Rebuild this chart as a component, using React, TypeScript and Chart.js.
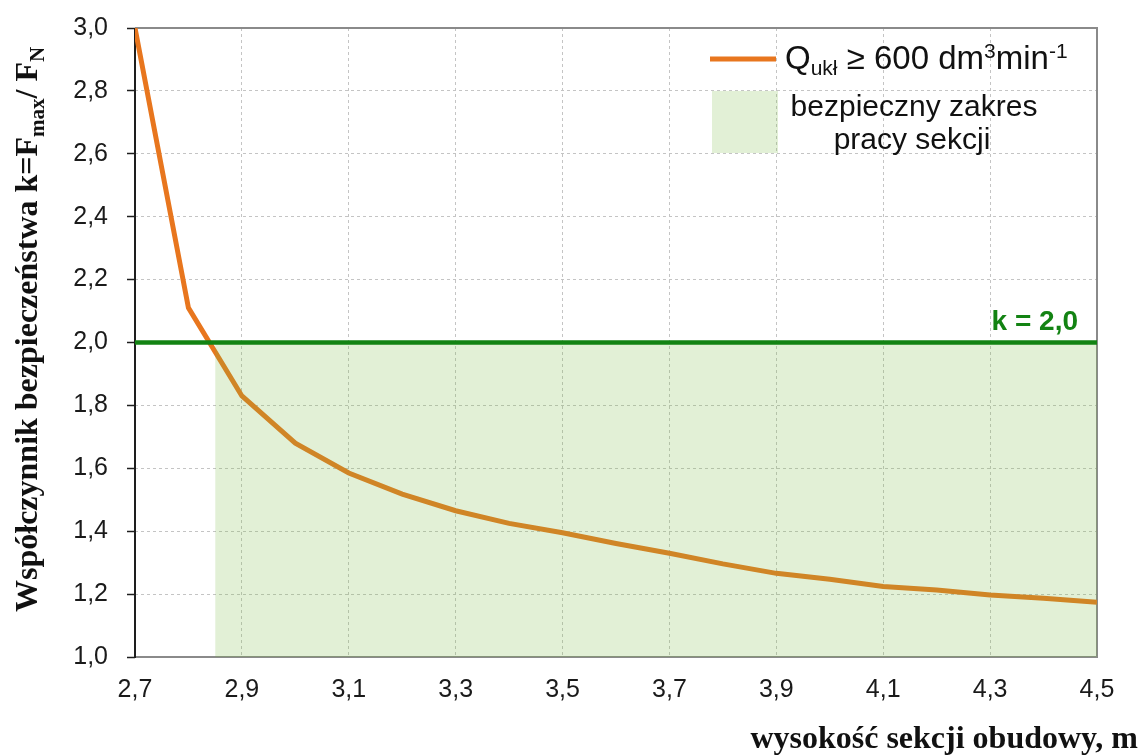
import { useEffect, useRef } from 'react';
import { Chart, registerables } from 'chart.js';

Chart.register(...registerables);

// ---- data ----
const heights = [2.7, 2.8, 2.9, 3.0, 3.1, 3.2, 3.3, 3.4, 3.5, 3.6, 3.7, 3.8, 3.9, 4.0, 4.1, 4.2, 4.3, 4.4, 4.5];
const safetyFactor = [3.0, 2.11, 1.83, 1.68, 1.585, 1.518, 1.465, 1.425, 1.395, 1.361, 1.33, 1.296, 1.266, 1.247, 1.224, 1.213, 1.197, 1.187, 1.174];
const kThreshold = 2.0;
const safeRangeStart = 2.85;
const xMin = 2.7;
const xMax = 4.5;
const yMin = 1.0;
const yMax = 3.0;
const xTicks = [2.7, 2.9, 3.1, 3.3, 3.5, 3.7, 3.9, 4.1, 4.3, 4.5];
const yTicks = [1.0, 1.2, 1.4, 1.6, 1.8, 2.0, 2.2, 2.4, 2.6, 2.8, 3.0];

const ORANGE = '#e8761e';
const DARK_GREEN = '#138313';
const ZONE_FILL = 'rgba(123,187,68,0.22)';
const GRID = '#c4c4c4';
const SANS = "'Liberation Sans', Arial, sans-serif";
const SERIF = "'Liberation Serif', 'Times New Roman', serif";

const fmt = (v: number) => Number(v).toFixed(1).replace('.', ',');

type Run = { t: string; size: number; dy: number };

function drawRuns(ctx: CanvasRenderingContext2D, runs: Run[], x: number, y: number, weight: string, family: string) {
  let cx = x;
  for (const r of runs) {
    ctx.font = `${weight} ${r.size}px ${family}`;
    ctx.fillText(r.t, cx, y + r.dy);
    cx += ctx.measureText(r.t).width;
  }
  return cx;
}

const framePlugin = {
  id: 'frame',
  beforeDatasetsDraw(chart: any) {
    const { ctx, chartArea: a } = chart;
    ctx.save();
    ctx.lineWidth = 2;
    ctx.strokeStyle = '#8a8a8a';
    ctx.beginPath();
    ctx.moveTo(a.left, a.top);
    ctx.lineTo(a.right, a.top);
    ctx.lineTo(a.right, a.bottom);
    ctx.lineTo(a.left, a.bottom);
    ctx.stroke();
    ctx.strokeStyle = '#1e1e1e';
    ctx.beginPath();
    ctx.moveTo(a.left, a.top);
    ctx.lineTo(a.left, a.bottom + 1);
    ctx.stroke();
    ctx.restore();
  },
};

const textPlugin = {
  id: 'texts',
  afterDraw(chart: any) {
    const { ctx } = chart;
    const xs = chart.scales.x;
    const ys = chart.scales.y;
    ctx.save();
    ctx.fillStyle = '#111';
    ctx.textAlign = 'left';
    ctx.textBaseline = 'alphabetic';

    // y axis title (rotated)
    ctx.save();
    ctx.translate(37, 612);
    ctx.rotate(-Math.PI / 2);
    drawRuns(ctx, [
      { t: 'Współczynnik bezpieczeństwa k=F', size: 32, dy: 0 },
      { t: 'max', size: 21, dy: 7 },
      { t: '/ F', size: 32, dy: 0 },
      { t: 'N', size: 21, dy: 7 },
    ], 0, 0, 'bold', SERIF);
    ctx.restore();

    // x axis title
    ctx.font = `bold 32px ${SERIF}`;
    ctx.textAlign = 'right';
    ctx.fillText('wysokość sekcji obudowy, m', 1138, 748);

    // k = 2,0 label
    ctx.fillStyle = DARK_GREEN;
    ctx.font = `bold 28px ${SANS}`;
    ctx.textAlign = 'right';
    ctx.fillText('k = 2,0', xs.getPixelForValue(xMax) - 19, ys.getPixelForValue(kThreshold) - 13);

    // legend
    const ds0 = chart.data.datasets[0];
    const ds1 = chart.data.datasets[1];
    ctx.strokeStyle = ds0.borderColor;
    ctx.lineWidth = 5;
    ctx.beginPath();
    ctx.moveTo(710, 59);
    ctx.lineTo(776, 59);
    ctx.stroke();
    ctx.fillStyle = '#111';
    ctx.textAlign = 'left';
    drawRuns(ctx, [
      { t: 'Q', size: 33, dy: 0 },
      { t: 'ukł', size: 21, dy: 6 },
      { t: ' ≥ 600 dm', size: 33, dy: 0 },
      { t: '3', size: 21, dy: -11 },
      { t: 'min', size: 33, dy: 0 },
      { t: '-1', size: 21, dy: -11 },
    ], 785, 69, 'normal', SANS);

    ctx.fillStyle = ds1.backgroundColor;
    ctx.fillRect(712, 91, 66, 62);
    ctx.fillStyle = '#111';
    ctx.textAlign = 'center';
    ctx.font = `normal 30px ${SANS}`;
    ctx.fillText('bezpieczny zakres', 914, 116);
    ctx.fillText('pracy sekcji', 912, 149);
    ctx.restore();
  },
};

export default function App() {
  const ref = useRef<HTMLCanvasElement>(null);
  useEffect(() => {
    const edge = (lo: number, hi: number) => (c: any) => {
      const v = c.tick ? c.tick.value : 0;
      return Math.abs(v - lo) < 1e-6 || Math.abs(v - hi) < 1e-6 ? 'rgba(0,0,0,0)' : GRID;
    };
    const chart = new Chart(ref.current as HTMLCanvasElement, {
      type: 'line',
      data: {
        datasets: [
          {
            label: 'Q ukł ≥ 600 dm3min-1',
            data: heights.map((h, i) => ({ x: h, y: safetyFactor[i] })),
            borderColor: ORANGE,
            backgroundColor: ORANGE,
            borderWidth: 5,
            pointRadius: 0,
            tension: 0,
            fill: false,
            order: 3,
          },
          {
            label: 'bezpieczny zakres pracy sekcji',
            data: [
              { x: safeRangeStart, y: kThreshold },
              { x: xMax, y: kThreshold },
            ],
            borderWidth: 0,
            borderColor: 'rgba(0,0,0,0)',
            backgroundColor: ZONE_FILL,
            pointRadius: 0,
            fill: 'start',
            order: 2,
          },
          {
            label: 'k = 2,0',
            data: [
              { x: xMin, y: kThreshold },
              { x: xMax, y: kThreshold },
            ],
            borderColor: DARK_GREEN,
            borderWidth: 4.5,
            pointRadius: 0,
            fill: false,
            order: 1,
          },
        ],
      },
      options: {
        responsive: true,
        maintainAspectRatio: false,
        animation: false,
        layout: { padding: { top: 28, right: 47, left: 0, bottom: 0 } },
        plugins: {
          legend: { display: false },
          tooltip: { enabled: false },
          filler: { drawTime: 'beforeDatasetDraw' },
        } as any,
        scales: {
          x: {
            type: 'linear',
            min: xMin,
            max: xMax,
            afterBuildTicks: (s: any) => {
              s.ticks = xTicks.map((v) => ({ value: v }));
            },
            afterFit: (s: any) => {
              s.height = 98;
              s.paddingLeft = 0;
              s.paddingRight = 0;
            },
            grid: { color: edge(xMin, xMax), lineWidth: 1, drawTicks: false },
            border: { display: false, dash: [3, 3] },
            ticks: {
              callback: (v: any) => fmt(v),
              font: { family: SANS, size: 25 },
              color: '#1a1a1a',
              padding: 18,
              maxRotation: 0,
              autoSkip: false,
            },
          },
          y: {
            type: 'linear',
            min: yMin,
            max: yMax,
            afterBuildTicks: (s: any) => {
              s.ticks = yTicks.map((v) => ({ value: v }));
            },
            afterFit: (s: any) => {
              s.width = 135;
              s.paddingTop = 0;
              s.paddingBottom = 0;
            },
            grid: {
              color: edge(yMin, yMax),
              lineWidth: 1,
              drawTicks: true,
              tickLength: 8,
              tickColor: '#1e1e1e',
              tickWidth: 1.5,
              tickBorderDash: [],
            },
            border: { display: false, dash: [3, 3] },
            ticks: {
              callback: (v: any) => fmt(v),
              font: { family: SANS, size: 25 },
              color: '#1a1a1a',
              padding: 19,
              autoSkip: false,
            },
          },
        },
      } as any,
      plugins: [framePlugin, textPlugin],
    });
    return () => chart.destroy();
  }, []);
  return (
    <div style={{ position: 'absolute', left: 0, top: 0, width: 1144, height: 755, background: '#fff' }}>
      <canvas ref={ref} />
    </div>
  );
}
